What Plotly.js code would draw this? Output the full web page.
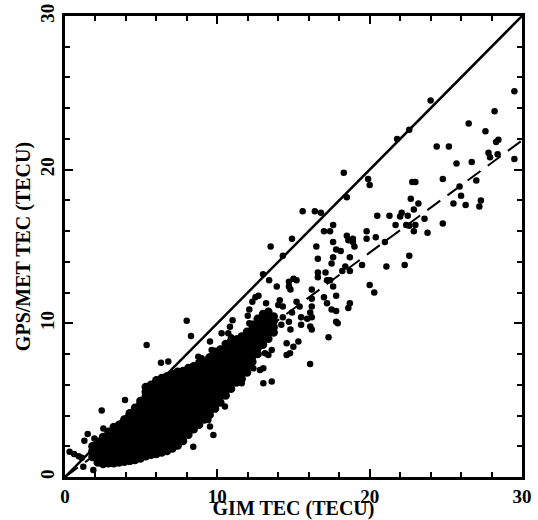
<!DOCTYPE html>
<html>
<head>
<meta charset="utf-8">
<script src="https://cdn.plot.ly/plotly-3.0.1.min.js"></script>
<style>html,body{margin:0;padding:0;background:#fff;}#chart{width:538px;height:520px;}</style>
</head>
<body>
<div id="chart"></div>
<script>
// Individual points: [GIM TEC, GPS/MET TEC]
const highPoints = [
  [29.5,25.1],[28.2,23.8],[26.5,23.0],[27.6,22.5],[28.3,21.8],[28.45,21.95],[27.8,21.1],[27.9,20.8],
  [28.4,21.0],[29.5,20.7],[24.0,24.5],[22.6,22.6],[21.8,22.0],[18.3,19.8],[19.9,19.4],[20.0,19.0],
  [18.5,18.2],[17.6,16.4],[24.4,21.5],[25.2,21.5],[25.7,20.4],[26.7,20.5],[24.8,19.4],[22.8,19.2],
  [23.0,19.2],[27.0,19.3],[25.9,18.9],[22.7,18.1],[23.2,17.8],[26.0,18.3],[25.5,17.8],[26.3,17.7],
  [27.3,18.0],[27.2,17.6],[22.9,17.4],[22.1,17.2],[22.0,16.95],[22.5,17.0],[20.5,17.0],[21.3,17.0],
  [23.6,16.8],[21.7,16.4],[22.4,16.4],[22.6,16.35],[23.0,16.4],[24.8,16.5],[22.9,16.0],[23.8,15.9],
  [19.8,16.0],[18.5,15.7],[18.9,15.5],[20.4,15.6],[19.8,15.5]
];
const midPoints = [
  [15.6,17.3],[16.4,17.3],[16.8,17.2],[13.5,15.0],[14.9,15.5],[14.3,14.4],[13.0,13.2],[13.4,12.8],
  [17.0,16.0],[17.4,16.0],[16.5,15.0],[17.6,15.3],[17.8,14.8],[18.1,14.7],[18.6,15.4],[18.9,15.3],
  [19.0,15.0],[16.6,14.2],[17.6,14.3],[17.5,13.9],[18.7,14.3],[18.4,13.7],[18.7,13.4],[18.2,13.4],
  [19.5,13.8],[21.0,15.3],[21.1,13.7],[22.3,13.8],[22.6,14.4],[20.0,12.5],[20.3,12.0],[16.6,13.3],
  [16.6,13.0],[17.1,13.3],[17.2,12.8],[17.4,12.8],[17.6,12.4],[16.2,12.2],[17.8,11.8],[17.0,11.7],
  [17.2,11.3],[17.5,10.9],[17.8,10.8],[18.7,11.3],[18.6,11.0],[17.8,10.1],[17.9,10.0],[17.3,9.1],
  [15.0,12.9],[15.2,12.8],[14.7,12.7],[14.7,12.4],[13.9,12.4],[14.8,12.2],[12.5,11.7],[12.7,11.8],
  [12.3,11.4],[13.2,11.3],[14.1,11.5],[14.3,11.1],[14.0,11.2],[15.2,11.4],[15.4,11.1],[16.2,11.6],
  [16.2,11.1],[16.1,10.7],[14.9,10.7],[14.7,10.1],[14.3,10.4],[14.2,9.9],[15.5,10.4],[15.9,10.3],
  [16.2,10.4],[15.5,9.9],[16.1,9.8],[16.2,9.6],[14.8,9.6],[12.1,10.9],[12.0,10.5],[12.1,10.0],
  [11.0,10.2],[10.9,9.1],[12.1,9.2]
];
const lowPoints = [
  [14.55,8.70],[14.99,8.48],[15.32,8.81],[14.77,8.05],[14.55,7.94],[16.09,7.35],[13.57,8.27],[13.35,7.94],
  [13.13,8.05],[13.02,7.07],[12.80,6.96],[12.37,7.07],[13.02,6.10],[13.57,6.21],[11.6,6.1],
  [7.99,10.17],[8.27,9.18],[5.36,8.59],[6.30,7.44],[6.78,7.51],[3.94,5.01],[2.41,4.32],[8.42,1.97],
  [9.74,2.73],[9.41,3.71],[9.52,3.28],[10.5,4.58],[10.07,5.01],[9.52,8.81],[9.63,8.27],[8.97,7.72],
  [8.75,7.83],[9.41,7.72],[10.28,9.35],[10.72,9.35],[10.83,9.78],[12.14,9.35],[11.38,9.03],
  [1.49,2.8],[1.27,2.36],[1.93,2.51],[2.52,3.16],[0.3,1.65],[0.6,1.5],[0.9,1.35],[1.1,1.25],
  [1.2,0.67],[1.86,0.45]
];
// Dense band of overlapping points (GIM TEC column, GPS/MET TEC values)
const cloudGim = [1.8,2.15,2.5,2.85,3.2,3.55,3.9,4.25,4.6,4.95,5.3,5.65,6.0,6.35,6.7,7.05,7.4,7.75,8.1,8.45,8.8,9.15,9.5,9.85,10.2,10.55,10.9,11.25,11.6,11.95,12.3,12.65,13.0,13.35,13.7];
const cloudMet = [
  [1.3,1.7,2.0],
  [0.95,1.3,1.6,2.0,2.3],
  [0.85,1.15,1.55,1.9,2.2,2.6],
  [0.9,1.3,1.6,1.95,2.35,2.65,2.95],
  [0.9,1.2,1.6,1.9,2.3,2.7,3.0,3.25],
  [0.95,1.35,1.65,2.0,2.4,2.7,3.05,3.4],
  [1.0,1.3,1.7,2.1,2.4,2.75,3.15,3.45,3.75],
  [1.05,1.45,1.75,2.1,2.5,2.8,3.15,3.55,3.85,4.15],
  [1.1,1.45,1.85,2.15,2.5,2.9,3.2,3.55,3.95,4.25,4.5],
  [1.2,1.55,1.9,2.3,2.6,2.95,3.35,3.65,4.0,4.4,4.7,4.95],
  [1.35,1.7,2.1,2.4,2.75,3.15,3.45,3.8,4.2,4.5,4.85,5.25,5.55,5.85],
  [1.45,1.8,2.15,2.55,2.85,3.2,3.6,3.9,4.25,4.65,4.95,5.3,5.7,6.0],
  [1.5,1.9,2.2,2.55,2.95,3.25,3.6,4.0,4.3,4.65,5.05,5.35,5.7,6.1,6.3],
  [1.6,1.95,2.35,2.65,3.0,3.4,3.7,4.05,4.45,4.75,5.1,5.5,5.8,6.15,6.45],
  [1.7,2.1,2.4,2.75,3.15,3.45,3.8,4.2,4.5,4.85,5.25,5.55,5.9,6.3,6.55],
  [1.85,2.2,2.6,2.9,3.25,3.65,3.95,4.3,4.7,5.0,5.35,5.75,6.05,6.4,6.7],
  [2.05,2.45,2.75,3.1,3.5,3.8,4.15,4.55,4.85,5.2,5.6,5.9,6.25,6.6,6.85],
  [2.35,2.7,3.1,3.4,3.75,4.15,4.45,4.8,5.2,5.5,5.85,6.25,6.55,6.9],
  [2.75,3.1,3.5,3.8,4.15,4.55,4.85,5.2,5.6,5.9,6.25,6.65,6.95,7.1],
  [3.1,3.45,3.85,4.15,4.5,4.9,5.2,5.55,5.95,6.25,6.6,7.0,7.2],
  [3.4,3.75,4.15,4.45,4.8,5.2,5.5,5.85,6.25,6.55,6.9,7.3,7.4],
  [3.75,4.1,4.5,4.8,5.15,5.55,5.85,6.2,6.6,6.9,7.25,7.5],
  [4.05,4.45,4.75,5.1,5.5,5.8,6.15,6.55,6.85,7.2,7.6,7.8],
  [4.45,4.8,5.2,5.5,5.85,6.25,6.55,6.9,7.3,7.6,7.95,8.15],
  [4.85,5.25,5.55,5.9,6.3,6.6,6.95,7.35,7.65,8.0,8.3],
  [5.3,5.65,6.05,6.35,6.7,7.1,7.4,7.75,8.15,8.45,8.65],
  [5.75,6.1,6.5,6.8,7.15,7.55,7.85,8.2,8.6,8.85],
  [6.15,6.55,6.85,7.2,7.6,7.9,8.25,8.65,8.95],
  [6.4,6.75,7.15,7.45,7.8,8.2,8.5,8.85,9.15],
  [6.8,7.2,7.5,7.85,8.25,8.55,8.9,9.3,9.45],
  [7.5,7.85,8.25,8.55,8.9,9.3,9.6,9.9],
  [8.0,8.4,8.7,9.05,9.45,9.75,10.1,10.3],
  [8.6,8.95,9.35,9.65,10.0,10.4,10.6],
  [9.0,9.4,9.7,10.05,10.45,10.75],
  [9.4,9.75,10.15,10.45]
];
const equalGim = [0, 30];
const equalMet = [0, 30];
const fitGim = [0, 30];
const fitMet = [0, 21.9];
const tickValues = [0, 10, 20, 30];
const tickLabels = ['0', '10', '20', '30'];
const xTitle = 'GIM TEC (TECU)';
const yTitle = 'GPS/MET TEC (TECU)';

const pts = highPoints.concat(midPoints, lowPoints);
const cx = [], cy = [];
cloudGim.forEach((g, i) => cloudMet[i].forEach(m => { cx.push(g); cy.push(m); }));

const FONT = 'Liberation Serif, Times New Roman, serif';
const traces = [
  {x: cx, y: cy, type: 'scatter', mode: 'markers', marker: {color: '#000', size: 8.5}, hoverinfo: 'skip'},
  {x: pts.map(p => p[0]), y: pts.map(p => p[1]), type: 'scatter', mode: 'markers', marker: {color: '#000', size: 6.5}},
  {x: equalGim, y: equalMet, type: 'scatter', mode: 'lines', line: {color: '#000', width: 2.5}},
  {x: fitGim, y: fitMet, type: 'scatter', mode: 'lines', line: {color: '#000', width: 2, dash: '16px,9px'}}
];
function axis(extra) {
  return Object.assign({
    range: [0, 30], tickmode: 'array', tickvals: tickValues, ticktext: tickLabels,
    ticks: 'inside', ticklen: 8, tickwidth: 2, tickcolor: '#000',
    minor: {tickmode: 'linear', tick0: 0, dtick: 2, ticks: 'inside', ticklen: 5, tickwidth: 2, tickcolor: '#000', showgrid: false},
    showline: true, linecolor: '#000', linewidth: 3, mirror: 'allticks',
    showgrid: false, zeroline: false, automargin: false, fixedrange: true,
    tickfont: {family: FONT, size: 19, color: '#000', weight: 700}
  }, extra);
}
const layout = {
  width: 538, height: 520,
  margin: {l: 65, r: 16, t: 16, b: 43, pad: 0},
  paper_bgcolor: '#fff', plot_bgcolor: '#fff',
  showlegend: false,
  xaxis: axis({title: {text: xTitle, standoff: 0, font: {family: FONT, size: 20, color: '#000', weight: 700}}}),
  yaxis: axis({tickangle: -90, title: {text: yTitle, standoff: 2, font: {family: FONT, size: 20, color: '#000', weight: 700}}})
};
Plotly.newPlot('chart', traces, layout, {staticPlot: true, displayModeBar: false});
</script>
</body>
</html>
